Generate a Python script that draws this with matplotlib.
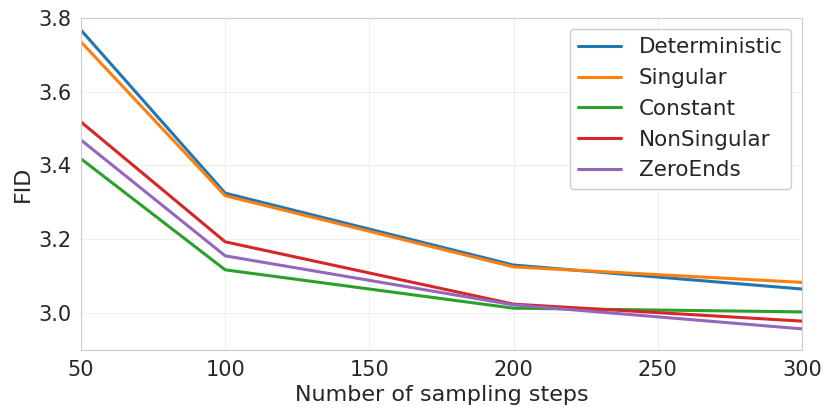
import matplotlib
matplotlib.use("Agg")
import matplotlib.pyplot as plt
import seaborn as sns

sns.set_style("whitegrid")
plt.rcParams['font.family'] = ['DejaVu Sans']

steps = [50, 100, 200, 300]
deterministic = [3.767, 3.325, 3.130, 3.065]
singular = [3.735, 3.318, 3.125, 3.083]
constant = [3.418, 3.117, 3.013, 3.003]
nonsingular = [3.518, 3.193, 3.024, 2.978]
zeroends = [3.469, 3.155, 3.022, 2.957]

fig, ax = plt.subplots(figsize=(8.31, 4.18), dpi=100)
ax.plot(steps, deterministic, lw=2.2, label="Deterministic")
ax.plot(steps, singular, lw=2.2, label="Singular")
ax.plot(steps, constant, lw=2.2, label="Constant")
ax.plot(steps, nonsingular, lw=2.2, label="NonSingular")
ax.plot(steps, zeroends, lw=2.2, label="ZeroEnds")

ax.set_xlim(50, 300)
ax.set_ylim(2.9, 3.8)
ax.set_xticks([50, 100, 150, 200, 250, 300])
ax.set_yticks([3.0, 3.2, 3.4, 3.6, 3.8])
ax.tick_params(labelsize=15)
ax.set_xlabel("Number of sampling steps", fontsize=16)
ax.set_ylabel("FID", fontsize=16)
for s in ax.spines.values():
    s.set_color("#cccccc")
ax.grid(color="#eeeeee")
ax.legend(fontsize=15.5, loc="upper right", framealpha=1)

fig.subplots_adjust(left=0.0975, right=0.965, top=0.957, bottom=0.163)
plt.savefig("out.png")
